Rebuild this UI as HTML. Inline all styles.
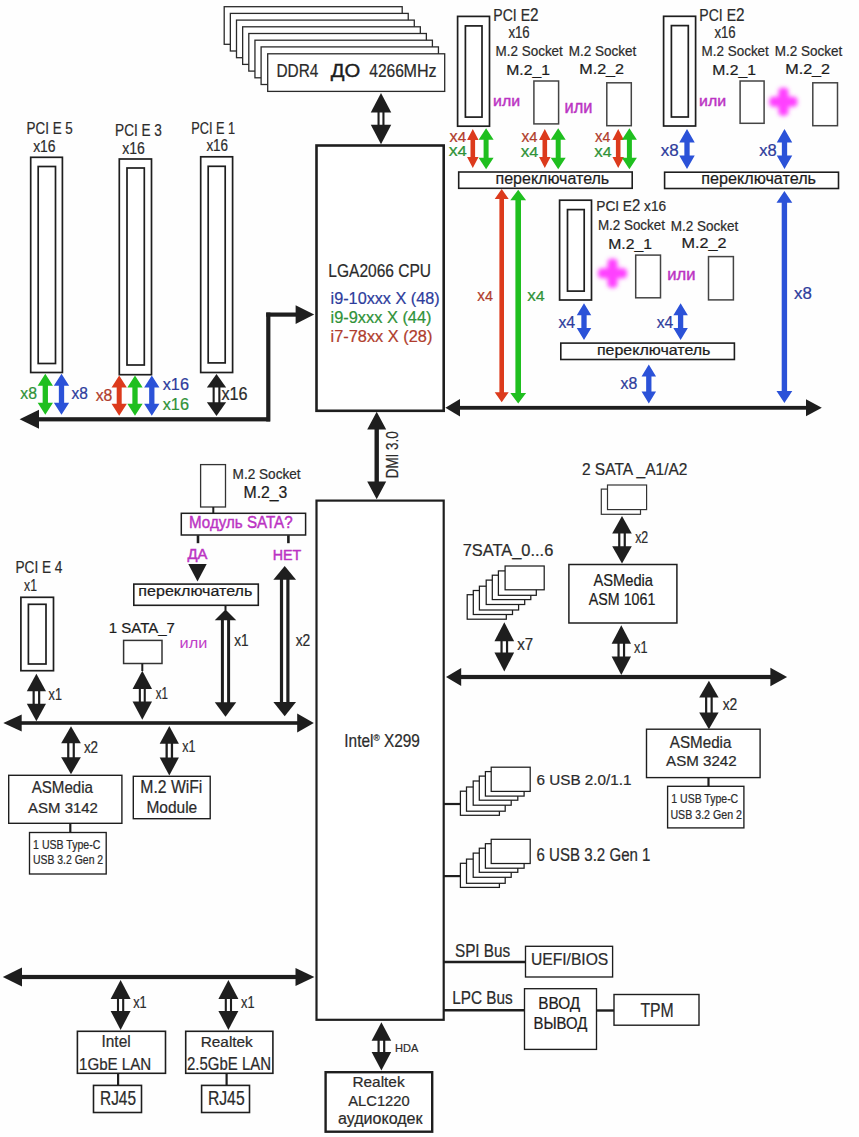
<!DOCTYPE html>
<html><head><meta charset="utf-8"><style>
html,body{margin:0;padding:0;background:#fefefe;width:859px;height:1137px;overflow:hidden}
svg text{font-family:"Liberation Sans",sans-serif}
</style></head><body>
<svg width="859" height="1137" viewBox="0 0 859 1137" style="position:absolute;left:0;top:0">
<defs><filter id="blur" x="-30%" y="-30%" width="160%" height="160%"><feGaussianBlur stdDeviation="2.0"/></filter></defs>
<rect width="859" height="1137" fill="#fefefe"/>
<rect x="224.2" y="6.7" width="178" height="37.6" fill="#fff" stroke="#2a2a2a" stroke-width="1.3"/>
<rect x="230.35" y="13.4" width="177.89" height="37.6" fill="#fff" stroke="#2a2a2a" stroke-width="1.3"/>
<rect x="236.5" y="20.1" width="177.78" height="37.6" fill="#fff" stroke="#2a2a2a" stroke-width="1.3"/>
<rect x="242.65" y="26.8" width="177.67" height="37.6" fill="#fff" stroke="#2a2a2a" stroke-width="1.3"/>
<rect x="248.8" y="33.5" width="177.56" height="37.6" fill="#fff" stroke="#2a2a2a" stroke-width="1.3"/>
<rect x="254.95" y="40.2" width="177.45" height="37.6" fill="#fff" stroke="#2a2a2a" stroke-width="1.3"/>
<rect x="261.1" y="46.9" width="177.34" height="37.6" fill="#fff" stroke="#2a2a2a" stroke-width="1.3"/>
<rect x="267.7" y="53.8" width="177" height="37.6" fill="#fff" stroke="#2a2a2a" stroke-width="1.3"/>
<rect x="377.5" y="111.4" width="2.1" height="14.3" fill="#1e1e1e"/>
<rect x="382.4" y="111.4" width="2.1" height="14.3" fill="#1e1e1e"/>
<polygon points="381,92.9 391.25,112.4 370.75,112.4" fill="#1e1e1e"/>
<polygon points="381,144.2 391.25,124.7 370.75,124.7" fill="#1e1e1e"/>
<rect x="30.7" y="157.3" width="31.7" height="215.2" fill="#fff" stroke="#1e1e1e" stroke-width="1.7"/>
<rect x="38.2" y="166.5" width="17.3" height="197" fill="#fff" stroke="#1e1e1e" stroke-width="1.7"/>
<rect x="119.3" y="159" width="32.2" height="215.7" fill="#fff" stroke="#1e1e1e" stroke-width="1.7"/>
<rect x="127" y="168" width="17.3" height="197" fill="#fff" stroke="#1e1e1e" stroke-width="1.7"/>
<rect x="200.7" y="156.8" width="31.9" height="215.7" fill="#fff" stroke="#1e1e1e" stroke-width="1.7"/>
<rect x="208.2" y="166.3" width="17" height="196.6" fill="#fff" stroke="#1e1e1e" stroke-width="1.7"/>
<polygon points="45.3,373.8 52.95,385.8 47.95,385.8 47.95,402.7 52.95,402.7 45.3,414.7 37.65,402.7 42.65,402.7 42.65,385.8 37.65,385.8" fill="#1fbf1f"/>
<polygon points="61.5,373.8 69.15,385.8 64.15,385.8 64.15,402.7 69.15,402.7 61.5,414.7 53.85,402.7 58.85,402.7 58.85,385.8 53.85,385.8" fill="#2b52d8"/>
<polygon points="119.2,375.6 126.85,387.6 121.7,387.6 121.7,403.7 126.85,403.7 119.2,415.7 111.55,403.7 116.7,403.7 116.7,387.6 111.55,387.6" fill="#dc3a1c"/>
<polygon points="135,375.6 142.65,387.6 137.65,387.6 137.65,403.7 142.65,403.7 135,415.7 127.35,403.7 132.35,403.7 132.35,387.6 127.35,387.6" fill="#1fbf1f"/>
<polygon points="151.8,375.6 159.45,387.6 154.45,387.6 154.45,403.7 159.45,403.7 151.8,415.7 144.15,403.7 149.15,403.7 149.15,387.6 144.15,387.6" fill="#2b52d8"/>
<rect x="212.6" y="386.6" width="2.1" height="16.7" fill="#1e1e1e"/>
<rect x="218.3" y="386.6" width="2.1" height="16.7" fill="#1e1e1e"/>
<polygon points="216.5,374 226.15,387.6 206.85,387.6" fill="#1e1e1e"/>
<polygon points="216.5,415.9 226.15,402.3 206.85,402.3" fill="#1e1e1e"/>
<rect x="38" y="417.2" width="232" height="4.2" fill="#1e1e1e"/>
<polygon points="19.6,419.3 39,409.8 39,428.8" fill="#1e1e1e"/>
<rect x="266.2" y="312.5" width="4.2" height="109" fill="#1e1e1e"/>
<rect x="266.2" y="312.5" width="30.4" height="4.2" fill="#1e1e1e"/>
<polygon points="314.2,314.6 295.6,305.3 295.6,323.9" fill="#1e1e1e"/>
<rect x="316.5" y="145.5" width="127.2" height="265.3" fill="#fff" stroke="#1e1e1e" stroke-width="2.6"/>
<rect x="457.6" y="16.4" width="31.9" height="109.8" fill="#fff" stroke="#1e1e1e" stroke-width="1.7"/>
<rect x="465.4" y="25.9" width="16.6" height="91.2" fill="#fff" stroke="#1e1e1e" stroke-width="1.7"/>
<rect x="533.9" y="81" width="24.7" height="42.9" fill="#fff" stroke="#444" stroke-width="1.5"/>
<rect x="606.8" y="82.8" width="24.5" height="42.9" fill="#fff" stroke="#444" stroke-width="1.5"/>
<polygon points="472.8,129 478.55,140 475.1,140 475.1,157.1 478.55,157.1 472.8,168.1 467.05,157.1 470.5,157.1 470.5,140 467.05,140" fill="#dc3a1c"/>
<polygon points="486.1,128.3 493.6,139.8 488.6,139.8 488.6,157.7 493.6,157.7 486.1,169.2 478.6,157.7 483.6,157.7 483.6,139.8 478.6,139.8" fill="#1fbf1f"/>
<polygon points="544.8,129 550.55,140 547.1,140 547.1,157.1 550.55,157.1 544.8,168.1 539.05,157.1 542.5,157.1 542.5,140 539.05,140" fill="#dc3a1c"/>
<polygon points="558.2,128.3 565.7,139.8 560.7,139.8 560.7,157.7 565.7,157.7 558.2,169.2 550.7,157.7 555.7,157.7 555.7,139.8 550.7,139.8" fill="#1fbf1f"/>
<polygon points="618.2,129 623.95,140 620.5,140 620.5,157.1 623.95,157.1 618.2,168.1 612.45,157.1 615.9,157.1 615.9,140 612.45,140" fill="#dc3a1c"/>
<polygon points="629.4,128.3 636.9,139.8 631.9,139.8 631.9,157.7 636.9,157.7 629.4,169.2 621.9,157.7 626.9,157.7 626.9,139.8 621.9,139.8" fill="#1fbf1f"/>
<rect x="458.7" y="172" width="173.5" height="16.3" fill="#fff" stroke="#1e1e1e" stroke-width="1.6"/>
<rect x="663.6" y="16.3" width="32" height="109.7" fill="#fff" stroke="#1e1e1e" stroke-width="1.7"/>
<rect x="671.4" y="25.6" width="16.9" height="91.4" fill="#fff" stroke="#1e1e1e" stroke-width="1.7"/>
<rect x="740.1" y="81" width="24" height="42.3" fill="#fff" stroke="#444" stroke-width="1.5"/>
<rect x="812.8" y="82.8" width="24.7" height="42.9" fill="#fff" stroke="#444" stroke-width="1.5"/>
<g filter="url(#blur)" fill="#ff40ff"><rect x="769.4" y="96.8" width="28" height="10" rx="4"/><rect x="778.4" y="87.8" width="10" height="28" rx="4"/></g>
<polygon points="687,129.1 694.75,142.6 689.65,142.6 689.65,155.5 694.75,155.5 687,169 679.25,155.5 684.35,155.5 684.35,142.6 679.25,142.6" fill="#2b52d8"/>
<polygon points="784.5,129.1 792.25,142.6 787.15,142.6 787.15,155.5 792.25,155.5 784.5,169 776.75,155.5 781.85,155.5 781.85,142.6 776.75,142.6" fill="#2b52d8"/>
<rect x="664.6" y="172.2" width="173.9" height="16.3" fill="#fff" stroke="#1e1e1e" stroke-width="1.6"/>
<rect x="559.6" y="200.2" width="31.9" height="99.8" fill="#fff" stroke="#1e1e1e" stroke-width="1.7"/>
<rect x="567.5" y="209.6" width="16.7" height="81.5" fill="#fff" stroke="#1e1e1e" stroke-width="1.7"/>
<rect x="635.7" y="255.1" width="24.8" height="42.7" fill="#fff" stroke="#444" stroke-width="1.5"/>
<rect x="708.5" y="256.6" width="24.9" height="43.3" fill="#fff" stroke="#444" stroke-width="1.5"/>
<g filter="url(#blur)" fill="#ff40ff"><rect x="598" y="268.2" width="29" height="10" rx="4"/><rect x="607.5" y="258.7" width="10" height="29" rx="4"/></g>
<polygon points="584,303.2 591.25,315.2 586.65,315.2 586.65,328 591.25,328 584,340 576.75,328 581.35,328 581.35,315.2 576.75,315.2" fill="#2b52d8"/>
<polygon points="680.6,303.2 687.85,315.2 683.25,315.2 683.25,328 687.85,328 680.6,340 673.35,328 677.95,328 677.95,315.2 673.35,315.2" fill="#2b52d8"/>
<rect x="560.8" y="343.1" width="173.6" height="16.4" fill="#fff" stroke="#1e1e1e" stroke-width="1.6"/>
<polygon points="648.8,364.4 656.05,376.4 651.45,376.4 651.45,391.5 656.05,391.5 648.8,403.5 641.55,391.5 646.15,391.5 646.15,376.4 641.55,376.4" fill="#2b52d8"/>
<polygon points="501.7,189.1 508.7,199.1 504,199.1 504,392.2 508.7,392.2 501.7,402.2 494.7,392.2 499.4,392.2 499.4,199.1 494.7,199.1" fill="#dc3a1c"/>
<polygon points="518.2,189.8 526.1,200.3 521,200.3 521,393.1 526.1,393.1 518.2,403.6 510.3,393.1 515.4,393.1 515.4,200.3 510.3,200.3" fill="#1fbf1f"/>
<polygon points="784.4,191 792.3,202.8 787.1,202.8 787.1,391.1 792.3,391.1 784.4,402.9 776.5,391.1 781.7,391.1 781.7,202.8 776.5,202.8" fill="#2b52d8"/>
<rect x="459" y="405.9" width="348" height="3.8" fill="#1e1e1e"/>
<polygon points="445.4,407.8 460,399.05 460,416.55" fill="#1e1e1e"/>
<polygon points="821.8,407.8 806,399.3 806,416.3" fill="#1e1e1e"/>
<polygon points="376.7,411.8 386.2,429.6 378.9,429.6 378.9,481.5 386.2,481.5 376.7,499.3 367.2,481.5 374.5,481.5 374.5,429.6 367.2,429.6" fill="#1e1e1e"/>
<rect x="316.5" y="500.6" width="127.2" height="519.2" fill="#fff" stroke="#1e1e1e" stroke-width="2.2"/>
<rect x="200.6" y="464.6" width="24.9" height="42.4" fill="#fff" stroke="#333" stroke-width="1.3"/>
<line x1="213.3" y1="507" x2="213.3" y2="513.5" stroke="#1e1e1e" stroke-width="2"/>
<rect x="181.3" y="513.3" width="124.3" height="21.7" fill="#fff" stroke="#1e1e1e" stroke-width="1.5"/>
<line x1="198" y1="535.3" x2="198" y2="543.2" stroke="#1e1e1e" stroke-width="2.6"/>
<line x1="288.4" y1="535.3" x2="288.4" y2="543.2" stroke="#1e1e1e" stroke-width="2.6"/>
<polygon points="188.3,564.1 206.7,564.1 197.5,581.6" fill="#1e1e1e"/>
<rect x="133.8" y="584.1" width="124.5" height="21.2" fill="#fff" stroke="#1e1e1e" stroke-width="1.6"/>
<rect x="220.9" y="619.3" width="3" height="84" fill="#1e1e1e"/>
<rect x="227.1" y="619.3" width="3" height="84" fill="#1e1e1e"/>
<polygon points="225.5,609.5 236.25,620.3 214.75,620.3" fill="#1e1e1e"/>
<polygon points="225.5,716.8 236.25,702.3 214.75,702.3" fill="#1e1e1e"/>
<line x1="225.5" y1="605" x2="225.5" y2="610.5" stroke="#1e1e1e" stroke-width="2"/>
<rect x="279.9" y="578.7" width="3.2" height="124.4" fill="#1e1e1e"/>
<rect x="286.3" y="578.7" width="3.2" height="124.4" fill="#1e1e1e"/>
<polygon points="284.7,565.9 296.05,579.7 273.35,579.7" fill="#1e1e1e"/>
<polygon points="284.7,716.3 296.05,702.1 273.35,702.1" fill="#1e1e1e"/>
<rect x="123.6" y="640.4" width="38.4" height="23.1" fill="#fff" stroke="#333" stroke-width="1.5"/>
<rect x="138.8" y="688" width="2.1" height="14.5" fill="#1e1e1e"/>
<rect x="143.7" y="688" width="2.1" height="14.5" fill="#1e1e1e"/>
<polygon points="142.3,670.7 152.05,689 132.55,689" fill="#1e1e1e"/>
<polygon points="142.3,719.8 152.05,701.5 132.55,701.5" fill="#1e1e1e"/>
<line x1="142.3" y1="663.5" x2="142.3" y2="671" stroke="#1e1e1e" stroke-width="2"/>
<rect x="20.9" y="597.3" width="32.6" height="73.4" fill="#fff" stroke="#1e1e1e" stroke-width="1.7"/>
<rect x="28.4" y="604.3" width="17.6" height="59.7" fill="#fff" stroke="#1e1e1e" stroke-width="1.7"/>
<rect x="32.55" y="690.2" width="2.2" height="14.6" fill="#1e1e1e"/>
<rect x="38.05" y="690.2" width="2.2" height="14.6" fill="#1e1e1e"/>
<polygon points="36.4,673.7 46,691.2 26.8,691.2" fill="#1e1e1e"/>
<polygon points="36.4,721.3 46,703.8 26.8,703.8" fill="#1e1e1e"/>
<rect x="20.7" y="721.2" width="277.5" height="3.6" fill="#1e1e1e"/>
<polygon points="3.3,723 21.7,714.5 21.7,731.5" fill="#1e1e1e"/>
<polygon points="313.8,723 297.2,713.5 297.2,732.5" fill="#1e1e1e"/>
<rect x="67.15" y="742.3" width="2.2" height="15.9" fill="#1e1e1e"/>
<rect x="72.65" y="742.3" width="2.2" height="15.9" fill="#1e1e1e"/>
<polygon points="71,726.3 80.85,743.3 61.15,743.3" fill="#1e1e1e"/>
<polygon points="71,774.2 80.85,757.2 61.15,757.2" fill="#1e1e1e"/>
<rect x="165.5" y="742.8" width="2.3" height="15.8" fill="#1e1e1e"/>
<rect x="170.8" y="742.8" width="2.3" height="15.8" fill="#1e1e1e"/>
<polygon points="169.3,725.9 178.9,743.8 159.7,743.8" fill="#1e1e1e"/>
<polygon points="169.3,775.5 178.9,757.6 159.7,757.6" fill="#1e1e1e"/>
<rect x="8.7" y="775.3" width="113.2" height="48" fill="#fff" stroke="#1e1e1e" stroke-width="1.4"/>
<line x1="70.3" y1="823.3" x2="70.3" y2="832.5" stroke="#1e1e1e" stroke-width="2.2"/>
<rect x="29.5" y="832.5" width="76.7" height="41.5" fill="#fff" stroke="#1e1e1e" stroke-width="1.35"/>
<rect x="133.3" y="776.3" width="76.9" height="42.4" fill="#fff" stroke="#1e1e1e" stroke-width="1.4"/>
<rect x="601.3" y="489.1" width="39.2" height="25.2" fill="#fff" stroke="#333" stroke-width="1.2"/>
<rect x="607.5" y="485" width="39.1" height="24.6" fill="#fff" stroke="#333" stroke-width="1.2"/>
<rect x="618.15" y="532.4" width="2.2" height="14.9" fill="#1e1e1e"/>
<rect x="623.65" y="532.4" width="2.2" height="14.9" fill="#1e1e1e"/>
<polygon points="622,516.1 631.8,533.4 612.2,533.4" fill="#1e1e1e"/>
<polygon points="622,563.6 631.8,546.3 612.2,546.3" fill="#1e1e1e"/>
<rect x="568.9" y="564.5" width="108" height="58.5" fill="#fff" stroke="#1e1e1e" stroke-width="1.5"/>
<rect x="617.45" y="642.8" width="2.2" height="14.6" fill="#1e1e1e"/>
<rect x="622.95" y="642.8" width="2.2" height="14.6" fill="#1e1e1e"/>
<polygon points="621.3,625.2 631,643.8 611.6,643.8" fill="#1e1e1e"/>
<polygon points="621.3,675 631,656.4 611.6,656.4" fill="#1e1e1e"/>
<rect x="467.2" y="594.7" width="39.1" height="24.5" fill="#fff" stroke="#1e1e1e" stroke-width="1.25"/>
<rect x="473.3" y="590.5" width="39.2" height="24" fill="#fff" stroke="#1e1e1e" stroke-width="1.25"/>
<rect x="479.4" y="586.2" width="39.2" height="23.8" fill="#fff" stroke="#1e1e1e" stroke-width="1.25"/>
<rect x="486.2" y="580.1" width="38.5" height="24.4" fill="#fff" stroke="#1e1e1e" stroke-width="1.25"/>
<rect x="492.3" y="575.2" width="38.5" height="24.4" fill="#fff" stroke="#1e1e1e" stroke-width="1.25"/>
<rect x="498.4" y="570.9" width="37.9" height="24.4" fill="#fff" stroke="#1e1e1e" stroke-width="1.25"/>
<rect x="505.1" y="566" width="39.1" height="23.8" fill="#fff" stroke="#1e1e1e" stroke-width="1.25"/>
<rect x="500.45" y="640.2" width="2.2" height="13.4" fill="#1e1e1e"/>
<rect x="505.95" y="640.2" width="2.2" height="13.4" fill="#1e1e1e"/>
<polygon points="504.3,622.3 514.15,641.2 494.45,641.2" fill="#1e1e1e"/>
<polygon points="504.3,671.5 514.15,652.6 494.45,652.6" fill="#1e1e1e"/>
<rect x="460.2" y="674.9" width="311.2" height="4.2" fill="#1e1e1e"/>
<polygon points="446,677 461.2,667.9 461.2,686.1" fill="#1e1e1e"/>
<polygon points="787.1,677 770.4,667.7 770.4,686.3" fill="#1e1e1e"/>
<rect x="705.05" y="696.5" width="2.2" height="16.9" fill="#1e1e1e"/>
<rect x="710.55" y="696.5" width="2.2" height="16.9" fill="#1e1e1e"/>
<polygon points="708.9,680.7 718.6,697.5 699.2,697.5" fill="#1e1e1e"/>
<polygon points="708.9,729.2 718.6,712.4 699.2,712.4" fill="#1e1e1e"/>
<rect x="646.5" y="729.2" width="113.6" height="48.4" fill="#fff" stroke="#1e1e1e" stroke-width="1.4"/>
<line x1="708.5" y1="777.6" x2="708.5" y2="786.3" stroke="#1e1e1e" stroke-width="2.2"/>
<rect x="667.6" y="786.3" width="76.3" height="41.6" fill="#fff" stroke="#1e1e1e" stroke-width="1.35"/>
<rect x="460.4" y="791.2" width="39" height="24.1" fill="#fff" stroke="#1e1e1e" stroke-width="1.25"/>
<rect x="466.5" y="787" width="38.7" height="24.2" fill="#fff" stroke="#1e1e1e" stroke-width="1.25"/>
<rect x="473.2" y="781" width="38" height="24.2" fill="#fff" stroke="#1e1e1e" stroke-width="1.25"/>
<rect x="479.3" y="776.1" width="38.5" height="24.1" fill="#fff" stroke="#1e1e1e" stroke-width="1.25"/>
<rect x="485.4" y="771.6" width="38.7" height="24.5" fill="#fff" stroke="#1e1e1e" stroke-width="1.25"/>
<rect x="491.2" y="767.2" width="39" height="24.2" fill="#fff" stroke="#1e1e1e" stroke-width="1.25"/>
<line x1="443.5" y1="804" x2="460" y2="804" stroke="#1e1e1e" stroke-width="2.2"/>
<rect x="460.4" y="863.3" width="39" height="24.1" fill="#fff" stroke="#1e1e1e" stroke-width="1.25"/>
<rect x="466.5" y="859.1" width="38.7" height="24.2" fill="#fff" stroke="#1e1e1e" stroke-width="1.25"/>
<rect x="473.2" y="853.1" width="38" height="24.2" fill="#fff" stroke="#1e1e1e" stroke-width="1.25"/>
<rect x="479.3" y="848.2" width="38.5" height="24.1" fill="#fff" stroke="#1e1e1e" stroke-width="1.25"/>
<rect x="485.4" y="843.7" width="38.7" height="24.5" fill="#fff" stroke="#1e1e1e" stroke-width="1.25"/>
<rect x="491.2" y="839.3" width="39" height="24.2" fill="#fff" stroke="#1e1e1e" stroke-width="1.25"/>
<line x1="443.5" y1="876.1" x2="460" y2="876.1" stroke="#1e1e1e" stroke-width="2.2"/>
<rect x="21" y="974.9" width="275.5" height="4.2" fill="#1e1e1e"/>
<polygon points="2.8,977 22,967.4 22,986.6" fill="#1e1e1e"/>
<polygon points="314.4,977 295.5,968 295.5,986" fill="#1e1e1e"/>
<rect x="116.95" y="998" width="2.1" height="13.9" fill="#1e1e1e"/>
<rect x="122.15" y="998" width="2.1" height="13.9" fill="#1e1e1e"/>
<polygon points="120.6,980 130.6,999 110.6,999" fill="#1e1e1e"/>
<polygon points="120.6,1029.9 130.6,1010.9 110.6,1010.9" fill="#1e1e1e"/>
<rect x="224.75" y="998" width="2.1" height="13.9" fill="#1e1e1e"/>
<rect x="229.95" y="998" width="2.1" height="13.9" fill="#1e1e1e"/>
<polygon points="228.4,980 238.4,999 218.4,999" fill="#1e1e1e"/>
<polygon points="228.4,1029.9 238.4,1010.9 218.4,1010.9" fill="#1e1e1e"/>
<rect x="77.4" y="1031.3" width="88.1" height="42" fill="#fff" stroke="#1e1e1e" stroke-width="1.6"/>
<line x1="118.1" y1="1073.3" x2="118.1" y2="1085.4" stroke="#1e1e1e" stroke-width="2.2"/>
<rect x="93.5" y="1085.4" width="48" height="27.1" fill="#fff" stroke="#1e1e1e" stroke-width="1.6"/>
<rect x="185.7" y="1031.3" width="87.2" height="42" fill="#fff" stroke="#1e1e1e" stroke-width="1.6"/>
<line x1="226.6" y1="1073.3" x2="226.6" y2="1085.4" stroke="#1e1e1e" stroke-width="2.2"/>
<rect x="201.6" y="1085.4" width="47.9" height="27.1" fill="#fff" stroke="#1e1e1e" stroke-width="1.6"/>
<rect x="377.5" y="1039.8" width="2.2" height="13.2" fill="#1e1e1e"/>
<rect x="383.1" y="1039.8" width="2.2" height="13.2" fill="#1e1e1e"/>
<polygon points="381.4,1022.2 391.2,1040.8 371.6,1040.8" fill="#1e1e1e"/>
<polygon points="381.4,1070.6 391.2,1052 371.6,1052" fill="#1e1e1e"/>
<rect x="325.6" y="1072.2" width="106.6" height="59.5" fill="#fff" stroke="#1e1e1e" stroke-width="2.4"/>
<line x1="443.5" y1="962" x2="525.5" y2="962" stroke="#1e1e1e" stroke-width="2.4"/>
<rect x="525.5" y="946.3" width="87.1" height="30.7" fill="#fff" stroke="#1e1e1e" stroke-width="1.35"/>
<line x1="443.5" y1="1010.3" x2="524.5" y2="1010.3" stroke="#1e1e1e" stroke-width="2.4"/>
<rect x="524.5" y="988.7" width="72" height="60.7" fill="#fff" stroke="#1e1e1e" stroke-width="1.35"/>
<line x1="596.5" y1="1010.5" x2="614" y2="1010.5" stroke="#1e1e1e" stroke-width="2.4"/>
<rect x="614" y="994.5" width="85" height="30.7" fill="#fff" stroke="#1e1e1e" stroke-width="1.4"/>
<text x="276.42" y="77.1" font-size="17.85" font-weight="normal" fill="#2b2b2b" stroke="#2b2b2b" stroke-width="0.22" textLength="41.93" lengthAdjust="spacingAndGlyphs">DDR4</text>
<text x="330.8" y="77.1" font-size="18.71" font-weight="normal" fill="#1c1c1c" stroke="#1c1c1c" stroke-width="0.4" textLength="29.48" lengthAdjust="spacingAndGlyphs">ДО</text>
<text x="369.24" y="77.1" font-size="17.43" font-weight="normal" fill="#2b2b2b" stroke="#2b2b2b" stroke-width="0.22" textLength="34.71" lengthAdjust="spacingAndGlyphs">4266</text>
<text x="403.56" y="77.1" font-size="17.85" font-weight="normal" fill="#2b2b2b" stroke="#2b2b2b" stroke-width="0.22" textLength="33.13" lengthAdjust="spacingAndGlyphs">MHz</text>
<text x="26.58" y="133.9" font-size="17.14" font-weight="normal" fill="#2b2b2b" stroke="#2b2b2b" stroke-width="0.22" textLength="46.23" lengthAdjust="spacingAndGlyphs">PCI E 5</text>
<text x="33.17" y="151.7" font-size="16.29" font-weight="normal" fill="#2b2b2b" stroke="#2b2b2b" stroke-width="0.22" textLength="22.47" lengthAdjust="spacingAndGlyphs">x16</text>
<text x="115.12" y="135.75" font-size="16.43" font-weight="normal" fill="#2b2b2b" stroke="#2b2b2b" stroke-width="0.22" textLength="46.75" lengthAdjust="spacingAndGlyphs">PCI E 3</text>
<text x="122.27" y="153.75" font-size="16.57" font-weight="normal" fill="#2b2b2b" stroke="#2b2b2b" stroke-width="0.22" textLength="22.63" lengthAdjust="spacingAndGlyphs">x16</text>
<text x="191.24" y="133.9" font-size="16" font-weight="normal" fill="#2b2b2b" stroke="#2b2b2b" stroke-width="0.22" textLength="43.95" lengthAdjust="spacingAndGlyphs">PCI E 1</text>
<text x="206.38" y="150.7" font-size="16.57" font-weight="normal" fill="#2b2b2b" stroke="#2b2b2b" stroke-width="0.22" textLength="21.74" lengthAdjust="spacingAndGlyphs">x16</text>
<text x="20.24" y="398.9" font-size="16.43" font-weight="normal" fill="#2f9238" stroke="#2f9238" stroke-width="0.22" textLength="16.69" lengthAdjust="spacingAndGlyphs">x8</text>
<text x="71.44" y="398.9" font-size="16.43" font-weight="normal" fill="#2d3c9c" stroke="#2d3c9c" stroke-width="0.22" textLength="16.37" lengthAdjust="spacingAndGlyphs">x8</text>
<text x="95.64" y="401.3" font-size="16.43" font-weight="normal" fill="#b03c2c" stroke="#b03c2c" stroke-width="0.22" textLength="16.69" lengthAdjust="spacingAndGlyphs">x8</text>
<text x="162.73" y="390.4" font-size="16.57" font-weight="normal" fill="#2d3c9c" stroke="#2d3c9c" stroke-width="0.22" textLength="26.22" lengthAdjust="spacingAndGlyphs">x16</text>
<text x="162.73" y="409.6" font-size="16.57" font-weight="normal" fill="#2f9238" stroke="#2f9238" stroke-width="0.22" textLength="26.22" lengthAdjust="spacingAndGlyphs">x16</text>
<text x="221.43" y="400.2" font-size="18" font-weight="normal" fill="#2b2b2b" stroke="#2b2b2b" stroke-width="0.22" textLength="26.22" lengthAdjust="spacingAndGlyphs">x16</text>
<text x="328.31" y="276.9" font-size="18" font-weight="normal" fill="#2b2b2b" stroke="#2b2b2b" stroke-width="0.22" textLength="102.76" lengthAdjust="spacingAndGlyphs">LGA2066 CPU</text>
<text x="330.62" y="303.8" font-size="17.02" font-weight="normal" fill="#2d3c9c" stroke="#2d3c9c" stroke-width="0.22" textLength="109.02" lengthAdjust="spacingAndGlyphs">i9-10xxx X (48)</text>
<text x="330.61" y="323" font-size="16.6" font-weight="normal" fill="#2f9238" stroke="#2f9238" stroke-width="0.22" textLength="100.84" lengthAdjust="spacingAndGlyphs">i9-9xxx X (44)</text>
<text x="330.61" y="342" font-size="16.88" font-weight="normal" fill="#b03c2c" stroke="#b03c2c" stroke-width="0.22" textLength="101.74" lengthAdjust="spacingAndGlyphs">i7-78xx X (28)</text>
<text x="493.33" y="21" font-size="16.17" font-weight="normal" fill="#2b2b2b" stroke="#2b2b2b" stroke-width="0.22" textLength="45.19" lengthAdjust="spacingAndGlyphs">PCI E<tspan font-size="1.09em">2</tspan></text>
<text x="508.38" y="37.7" font-size="15.57" font-weight="normal" fill="#2b2b2b" stroke="#2b2b2b" stroke-width="0.22" textLength="21.33" lengthAdjust="spacingAndGlyphs">x16</text>
<text x="495.58" y="56.3" font-size="14.23" font-weight="normal" fill="#2b2b2b" stroke="#2b2b2b" stroke-width="0.22" textLength="67.25" lengthAdjust="spacingAndGlyphs">M.2 Socket</text>
<text x="568.67" y="56.4" font-size="14.37" font-weight="normal" fill="#2b2b2b" stroke="#2b2b2b" stroke-width="0.22" textLength="67.55" lengthAdjust="spacingAndGlyphs">M.2 Socket</text>
<text x="506.29" y="74.5" font-size="14" font-weight="normal" fill="#1c1c1c" stroke="#1c1c1c" stroke-width="0.22" textLength="43.63" lengthAdjust="spacingAndGlyphs">M.2_1</text>
<text x="579.26" y="74.4" font-size="14.14" font-weight="normal" fill="#1c1c1c" stroke="#1c1c1c" stroke-width="0.22" textLength="44.79" lengthAdjust="spacingAndGlyphs">M.2_2</text>
<text x="493.14" y="106" font-size="15.48" font-weight="normal" fill="#bb33c3" stroke="#bb33c3" stroke-width="0.45" textLength="27.03" lengthAdjust="spacingAndGlyphs">или</text>
<text x="699.33" y="21" font-size="16.17" font-weight="normal" fill="#2b2b2b" stroke="#2b2b2b" stroke-width="0.22" textLength="45.19" lengthAdjust="spacingAndGlyphs">PCI E<tspan font-size="1.09em">2</tspan></text>
<text x="714.38" y="37.7" font-size="15.57" font-weight="normal" fill="#2b2b2b" stroke="#2b2b2b" stroke-width="0.22" textLength="21.33" lengthAdjust="spacingAndGlyphs">x16</text>
<text x="701.58" y="56.3" font-size="14.23" font-weight="normal" fill="#2b2b2b" stroke="#2b2b2b" stroke-width="0.22" textLength="67.25" lengthAdjust="spacingAndGlyphs">M.2 Socket</text>
<text x="774.67" y="56.4" font-size="14.37" font-weight="normal" fill="#2b2b2b" stroke="#2b2b2b" stroke-width="0.22" textLength="67.55" lengthAdjust="spacingAndGlyphs">M.2 Socket</text>
<text x="712.29" y="74.5" font-size="14" font-weight="normal" fill="#1c1c1c" stroke="#1c1c1c" stroke-width="0.22" textLength="43.63" lengthAdjust="spacingAndGlyphs">M.2_1</text>
<text x="785.26" y="74.4" font-size="14.14" font-weight="normal" fill="#1c1c1c" stroke="#1c1c1c" stroke-width="0.22" textLength="44.79" lengthAdjust="spacingAndGlyphs">M.2_2</text>
<text x="699.14" y="106" font-size="15.48" font-weight="normal" fill="#bb33c3" stroke="#bb33c3" stroke-width="0.45" textLength="27.03" lengthAdjust="spacingAndGlyphs">или</text>
<text x="564.51" y="113.1" font-size="17.61" font-weight="normal" fill="#bb33c3" stroke="#bb33c3" stroke-width="0.45" textLength="27.79" lengthAdjust="spacingAndGlyphs">или</text>
<text x="449.55" y="141.5" font-size="15.22" font-weight="normal" fill="#b03c2c" stroke="#b03c2c" stroke-width="0.22" textLength="16.63" lengthAdjust="spacingAndGlyphs"><tspan font-size="1.07em">x</tspan>4</text>
<text x="448.72" y="156.2" font-size="15.22" font-weight="normal" fill="#2f9238" stroke="#2f9238" stroke-width="0.22" textLength="18.19" lengthAdjust="spacingAndGlyphs"><tspan font-size="1.07em">x</tspan>4</text>
<text x="521.46" y="141.5" font-size="15.22" font-weight="normal" fill="#b03c2c" stroke="#b03c2c" stroke-width="0.22" textLength="16" lengthAdjust="spacingAndGlyphs"><tspan font-size="1.07em">x</tspan>4</text>
<text x="520.73" y="156.5" font-size="15.22" font-weight="normal" fill="#2f9238" stroke="#2f9238" stroke-width="0.22" textLength="17.67" lengthAdjust="spacingAndGlyphs"><tspan font-size="1.07em">x</tspan>4</text>
<text x="594.97" y="141.5" font-size="15.22" font-weight="normal" fill="#b03c2c" stroke="#b03c2c" stroke-width="0.22" textLength="15.28" lengthAdjust="spacingAndGlyphs"><tspan font-size="1.07em">x</tspan>4</text>
<text x="594.23" y="156.9" font-size="15.22" font-weight="normal" fill="#2f9238" stroke="#2f9238" stroke-width="0.22" textLength="17.35" lengthAdjust="spacingAndGlyphs"><tspan font-size="1.07em">x</tspan>4</text>
<text x="495.53" y="183.5" font-size="15.94" font-weight="normal" fill="#1c1c1c" stroke="#1c1c1c" stroke-width="0.22" textLength="113.7" lengthAdjust="spacingAndGlyphs">переключатель</text>
<text x="660.72" y="156.4" font-size="16.43" font-weight="normal" fill="#2d3c9c" stroke="#2d3c9c" stroke-width="0.22" textLength="17.96" lengthAdjust="spacingAndGlyphs">x8</text>
<text x="759.23" y="156.4" font-size="16.43" font-weight="normal" fill="#2d3c9c" stroke="#2d3c9c" stroke-width="0.22" textLength="17.43" lengthAdjust="spacingAndGlyphs">x8</text>
<text x="701.22" y="183.6" font-size="16.12" font-weight="normal" fill="#1c1c1c" stroke="#1c1c1c" stroke-width="0.22" textLength="114.81" lengthAdjust="spacingAndGlyphs">переключатель</text>
<text x="596.26" y="210.5" font-size="14.61" font-weight="normal" fill="#2b2b2b" stroke="#2b2b2b" stroke-width="0.22" textLength="69.91" lengthAdjust="spacingAndGlyphs">PCI E<tspan font-size="1.09em">2</tspan> x16</text>
<text x="597.88" y="230.3" font-size="14.23" font-weight="normal" fill="#2b2b2b" stroke="#2b2b2b" stroke-width="0.22" textLength="67.04" lengthAdjust="spacingAndGlyphs">M.2 Socket</text>
<text x="670.77" y="230.5" font-size="14.23" font-weight="normal" fill="#2b2b2b" stroke="#2b2b2b" stroke-width="0.22" textLength="67.55" lengthAdjust="spacingAndGlyphs">M.2 Socket</text>
<text x="608.19" y="248.6" font-size="14.57" font-weight="normal" fill="#1c1c1c" stroke="#1c1c1c" stroke-width="0.22" textLength="43.74" lengthAdjust="spacingAndGlyphs">M.2_1</text>
<text x="681.45" y="248.2" font-size="14" font-weight="normal" fill="#1c1c1c" stroke="#1c1c1c" stroke-width="0.22" textLength="45" lengthAdjust="spacingAndGlyphs">M.2_2</text>
<text x="667.3" y="279.9" font-size="16.26" font-weight="normal" fill="#bb33c3" stroke="#bb33c3" stroke-width="0.45" textLength="28.12" lengthAdjust="spacingAndGlyphs">или</text>
<text x="558.44" y="328.1" font-size="16.1" font-weight="normal" fill="#2d3c9c" stroke="#2d3c9c" stroke-width="0.22" textLength="16.73" lengthAdjust="spacingAndGlyphs">x4</text>
<text x="656.64" y="328.1" font-size="16.1" font-weight="normal" fill="#2d3c9c" stroke="#2d3c9c" stroke-width="0.22" textLength="16.52" lengthAdjust="spacingAndGlyphs">x4</text>
<text x="596.93" y="354.6" font-size="15.19" font-weight="normal" fill="#1c1c1c" stroke="#1c1c1c" stroke-width="0.22" textLength="113.49" lengthAdjust="spacingAndGlyphs">переключатель</text>
<text x="620.44" y="388.8" font-size="16.43" font-weight="normal" fill="#2d3c9c" stroke="#2d3c9c" stroke-width="0.22" textLength="16.79" lengthAdjust="spacingAndGlyphs">x8</text>
<text x="477.26" y="301" font-size="15.22" font-weight="normal" fill="#b03c2c" stroke="#b03c2c" stroke-width="0.22" textLength="15.59" lengthAdjust="spacingAndGlyphs"><tspan font-size="1.07em">x</tspan>4</text>
<text x="527.23" y="301" font-size="15.22" font-weight="normal" fill="#2f9238" stroke="#2f9238" stroke-width="0.22" textLength="17.46" lengthAdjust="spacingAndGlyphs"><tspan font-size="1.07em">x</tspan>4</text>
<text x="794.12" y="299.3" font-size="16.43" font-weight="normal" fill="#2d3c9c" stroke="#2d3c9c" stroke-width="0.22" textLength="17.85" lengthAdjust="spacingAndGlyphs">x8</text>
<text x="344.32" y="746.6" font-size="17.86" font-weight="normal" fill="#2b2b2b" stroke="#2b2b2b" stroke-width="0.22" textLength="75.54" lengthAdjust="spacingAndGlyphs">Intel<tspan font-size="0.55em" dy="-0.6em">®</tspan><tspan dy="0.33em"> X299</tspan></text>
<text x="232.57" y="479.4" font-size="13.81" font-weight="normal" fill="#2b2b2b" stroke="#2b2b2b" stroke-width="0.22" textLength="68.06" lengthAdjust="spacingAndGlyphs">M.2 Socket</text>
<text x="243.48" y="497.8" font-size="15.57" font-weight="normal" fill="#1c1c1c" stroke="#1c1c1c" stroke-width="0.22" textLength="43.95" lengthAdjust="spacingAndGlyphs">M.2_3</text>
<text x="189.04" y="528.1" font-size="16.43" font-weight="normal" fill="#bb33c3" stroke="#bb33c3" stroke-width="0.45" textLength="103.6" lengthAdjust="spacingAndGlyphs">Модуль SATA?</text>
<text x="187.5" y="558.9" font-size="14.05" font-weight="normal" fill="#bb33c3" stroke="#bb33c3" stroke-width="0.45" textLength="19.92" lengthAdjust="spacingAndGlyphs">ДА</text>
<text x="272.71" y="559.8" font-size="14.05" font-weight="normal" fill="#bb33c3" stroke="#bb33c3" stroke-width="0.45" textLength="28.53" lengthAdjust="spacingAndGlyphs">НЕТ</text>
<text x="138.33" y="596.4" font-size="15.19" font-weight="normal" fill="#1c1c1c" stroke="#1c1c1c" stroke-width="0.22" textLength="114" lengthAdjust="spacingAndGlyphs">переключатель</text>
<text x="234.17" y="646.3" font-size="16.83" font-weight="normal" fill="#2b2b2b" stroke="#2b2b2b" stroke-width="0.22" textLength="14.36" lengthAdjust="spacingAndGlyphs">x1</text>
<text x="295.67" y="645.5" font-size="16.43" font-weight="normal" fill="#2b2b2b" stroke="#2b2b2b" stroke-width="0.22" textLength="14.61" lengthAdjust="spacingAndGlyphs">x2</text>
<text x="108.7" y="632.7" font-size="14.57" font-weight="normal" fill="#1c1c1c" stroke="#1c1c1c" stroke-width="0.22" textLength="66.25" lengthAdjust="spacingAndGlyphs">1 SATA_7</text>
<text x="179.61" y="648.1" font-size="14.71" font-weight="normal" fill="#c040c8" stroke="#c040c8" stroke-width="0.0" textLength="27.79" lengthAdjust="spacingAndGlyphs">или</text>
<text x="155.81" y="698.6" font-size="15.8" font-weight="normal" fill="#2b2b2b" stroke="#2b2b2b" stroke-width="0.22" textLength="12.15" lengthAdjust="spacingAndGlyphs">x1</text>
<text x="15.47" y="572.8" font-size="17" font-weight="normal" fill="#2b2b2b" stroke="#2b2b2b" stroke-width="0.22" textLength="46.93" lengthAdjust="spacingAndGlyphs">PCI E 4</text>
<text x="24.1" y="591" font-size="17.41" font-weight="normal" fill="#2b2b2b" stroke="#2b2b2b" stroke-width="0.22" textLength="12.89" lengthAdjust="spacingAndGlyphs">x1</text>
<text x="48.59" y="699.6" font-size="16.83" font-weight="normal" fill="#2b2b2b" stroke="#2b2b2b" stroke-width="0.22" textLength="13.31" lengthAdjust="spacingAndGlyphs">x1</text>
<text x="83.88" y="752.6" font-size="16.43" font-weight="normal" fill="#2b2b2b" stroke="#2b2b2b" stroke-width="0.22" textLength="14.18" lengthAdjust="spacingAndGlyphs">x2</text>
<text x="182.29" y="752.1" font-size="16.83" font-weight="normal" fill="#2b2b2b" stroke="#2b2b2b" stroke-width="0.22" textLength="13.2" lengthAdjust="spacingAndGlyphs">x1</text>
<text x="31.7" y="793.4" font-size="16.05" font-weight="normal" fill="#2b2b2b" stroke="#2b2b2b" stroke-width="0.22" textLength="61.32" lengthAdjust="spacingAndGlyphs">ASMedia</text>
<text x="28.1" y="812.9" font-size="15.14" font-weight="normal" fill="#2b2b2b" stroke="#2b2b2b" stroke-width="0.22" textLength="69.79" lengthAdjust="spacingAndGlyphs">ASM 3142</text>
<text x="33.1" y="848.7" font-size="13" font-weight="normal" fill="#2b2b2b" stroke="#2b2b2b" stroke-width="0.22" textLength="67.22" lengthAdjust="spacingAndGlyphs">1 USB Type-C</text>
<text x="32.93" y="864.2" font-size="13.14" font-weight="normal" fill="#2b2b2b" stroke="#2b2b2b" stroke-width="0.22" textLength="70.22" lengthAdjust="spacingAndGlyphs">USB 3.2 Gen 2</text>
<text x="140.29" y="792.5" font-size="17.44" font-weight="normal" fill="#2b2b2b" stroke="#2b2b2b" stroke-width="0.22" textLength="62.07" lengthAdjust="spacingAndGlyphs">M.2 WiFi</text>
<text x="146.41" y="813.4" font-size="16.88" font-weight="normal" fill="#2b2b2b" stroke="#2b2b2b" stroke-width="0.22" textLength="50.81" lengthAdjust="spacingAndGlyphs">Module</text>
<text x="581.92" y="474.6" font-size="16.6" font-weight="normal" fill="#2b2b2b" stroke="#2b2b2b" stroke-width="0.22" textLength="105.56" lengthAdjust="spacingAndGlyphs">2 SATA _A1/A2</text>
<text x="635.19" y="542.8" font-size="16.43" font-weight="normal" fill="#2b2b2b" stroke="#2b2b2b" stroke-width="0.22" textLength="13" lengthAdjust="spacingAndGlyphs">x2</text>
<text x="593.5" y="586" font-size="16.33" font-weight="normal" fill="#1c1c1c" stroke="#1c1c1c" stroke-width="0.22" textLength="59.51" lengthAdjust="spacingAndGlyphs">ASMedia</text>
<text x="588.8" y="605.2" font-size="16.71" font-weight="normal" fill="#1c1c1c" stroke="#1c1c1c" stroke-width="0.22" textLength="66.55" lengthAdjust="spacingAndGlyphs">ASM 1061</text>
<text x="634.09" y="652.8" font-size="16.83" font-weight="normal" fill="#2b2b2b" stroke="#2b2b2b" stroke-width="0.22" textLength="13.41" lengthAdjust="spacingAndGlyphs">x1</text>
<text x="462.68" y="555.7" font-size="16.14" font-weight="normal" fill="#2b2b2b" stroke="#2b2b2b" stroke-width="0.22" textLength="90.65" lengthAdjust="spacingAndGlyphs">7SATA_0...6</text>
<text x="517.25" y="649.5" font-size="16.83" font-weight="normal" fill="#2b2b2b" stroke="#2b2b2b" stroke-width="0.22" textLength="15.9" lengthAdjust="spacingAndGlyphs">x7</text>
<text x="722.67" y="709.6" font-size="16.43" font-weight="normal" fill="#2b2b2b" stroke="#2b2b2b" stroke-width="0.22" textLength="14.61" lengthAdjust="spacingAndGlyphs">x2</text>
<text x="669.8" y="747.8" font-size="15.63" font-weight="normal" fill="#2b2b2b" stroke="#2b2b2b" stroke-width="0.22" textLength="61.62" lengthAdjust="spacingAndGlyphs">ASMedia</text>
<text x="666.1" y="766.4" font-size="14.57" font-weight="normal" fill="#2b2b2b" stroke="#2b2b2b" stroke-width="0.22" textLength="70.6" lengthAdjust="spacingAndGlyphs">ASM 3242</text>
<text x="671.3" y="802.7" font-size="13.29" font-weight="normal" fill="#2b2b2b" stroke="#2b2b2b" stroke-width="0.22" textLength="66.92" lengthAdjust="spacingAndGlyphs">1 USB Type-C</text>
<text x="670.41" y="818.6" font-size="12" font-weight="normal" fill="#2b2b2b" stroke="#2b2b2b" stroke-width="0.22" textLength="71.54" lengthAdjust="spacingAndGlyphs">USB 3.2 Gen 2</text>
<text x="536.54" y="785.1" font-size="15.49" font-weight="normal" fill="#2b2b2b" stroke="#2b2b2b" stroke-width="0.22" textLength="95.02" lengthAdjust="spacingAndGlyphs">6 USB 2.0/1.1</text>
<text x="536.55" y="860.5" font-size="18.43" font-weight="normal" fill="#2b2b2b" stroke="#2b2b2b" stroke-width="0.22" textLength="113.91" lengthAdjust="spacingAndGlyphs">6 USB 3.2 Gen 1</text>
<text x="133.19" y="1007.5" font-size="16.83" font-weight="normal" fill="#2b2b2b" stroke="#2b2b2b" stroke-width="0.22" textLength="13.52" lengthAdjust="spacingAndGlyphs">x1</text>
<text x="241.09" y="1007.5" font-size="16.83" font-weight="normal" fill="#2b2b2b" stroke="#2b2b2b" stroke-width="0.22" textLength="13.52" lengthAdjust="spacingAndGlyphs">x1</text>
<text x="101.52" y="1047.4" font-size="16.47" font-weight="normal" fill="#2b2b2b" stroke="#2b2b2b" stroke-width="0.22" textLength="29.12" lengthAdjust="spacingAndGlyphs">Intel</text>
<text x="78.99" y="1069.8" font-size="16.88" font-weight="normal" fill="#2b2b2b" stroke="#2b2b2b" stroke-width="0.22" textLength="72.22" lengthAdjust="spacingAndGlyphs">1GbE LAN</text>
<text x="100.01" y="1105.4" font-size="19.76" font-weight="normal" fill="#2b2b2b" stroke="#2b2b2b" stroke-width="0.22" textLength="36.02" lengthAdjust="spacingAndGlyphs">RJ45</text>
<text x="200.72" y="1047" font-size="13.95" font-weight="normal" fill="#2b2b2b" stroke="#2b2b2b" stroke-width="0.22" textLength="52.09" lengthAdjust="spacingAndGlyphs">Realtek</text>
<text x="187.05" y="1069.8" font-size="17.86" font-weight="normal" fill="#2b2b2b" stroke="#2b2b2b" stroke-width="0.22" textLength="83.96" lengthAdjust="spacingAndGlyphs">2.5GbE LAN</text>
<text x="207.89" y="1105.4" font-size="19.76" font-weight="normal" fill="#2b2b2b" stroke="#2b2b2b" stroke-width="0.22" textLength="36.76" lengthAdjust="spacingAndGlyphs">RJ45</text>
<text x="394.98" y="1052" font-size="11.71" font-weight="normal" fill="#2b2b2b" stroke="#2b2b2b" stroke-width="0.22" textLength="23.26" lengthAdjust="spacingAndGlyphs">HDA</text>
<text x="352.42" y="1086.6" font-size="14.37" font-weight="normal" fill="#2b2b2b" stroke="#2b2b2b" stroke-width="0.22" textLength="52.2" lengthAdjust="spacingAndGlyphs">Realtek</text>
<text x="348.3" y="1106" font-size="14.43" font-weight="normal" fill="#2b2b2b" stroke="#2b2b2b" stroke-width="0.22" textLength="61.34" lengthAdjust="spacingAndGlyphs">ALC1220</text>
<text x="337.96" y="1124.4" font-size="16.88" font-weight="normal" fill="#2b2b2b" stroke="#2b2b2b" stroke-width="0.22" textLength="84.59" lengthAdjust="spacingAndGlyphs">аудиокодек</text>
<text x="454.93" y="956.7" font-size="18.57" font-weight="normal" fill="#2b2b2b" stroke="#2b2b2b" stroke-width="0.22" textLength="55.32" lengthAdjust="spacingAndGlyphs">SPI Bus</text>
<text x="530.9" y="965.2" font-size="16.33" font-weight="normal" fill="#2b2b2b" stroke="#2b2b2b" stroke-width="0.22" textLength="77.41" lengthAdjust="spacingAndGlyphs">UEFI/BIOS</text>
<text x="452.32" y="1003.6" font-size="18.71" font-weight="normal" fill="#2b2b2b" stroke="#2b2b2b" stroke-width="0.22" textLength="60.43" lengthAdjust="spacingAndGlyphs">LPC Bus</text>
<text x="538.22" y="1009.2" font-size="16.71" font-weight="normal" fill="#1c1c1c" stroke="#1c1c1c" stroke-width="0.22" textLength="42.05" lengthAdjust="spacingAndGlyphs">ВВОД</text>
<text x="533.46" y="1028.5" font-size="16.43" font-weight="normal" fill="#1c1c1c" stroke="#1c1c1c" stroke-width="0.22" textLength="53.93" lengthAdjust="spacingAndGlyphs">ВЫВОД</text>
<text x="640.44" y="1016.9" font-size="19.46" font-weight="normal" fill="#2b2b2b" stroke="#2b2b2b" stroke-width="0.22" textLength="33.29" lengthAdjust="spacingAndGlyphs">TPM</text>
<text transform="translate(398.3,478.3) rotate(-90)" x="0" y="0" font-size="17.4" fill="#2b2b2b" stroke="#2b2b2b" stroke-width="0.25" textLength="47" lengthAdjust="spacingAndGlyphs">DMI 3.0</text>
</svg>
</body></html>
